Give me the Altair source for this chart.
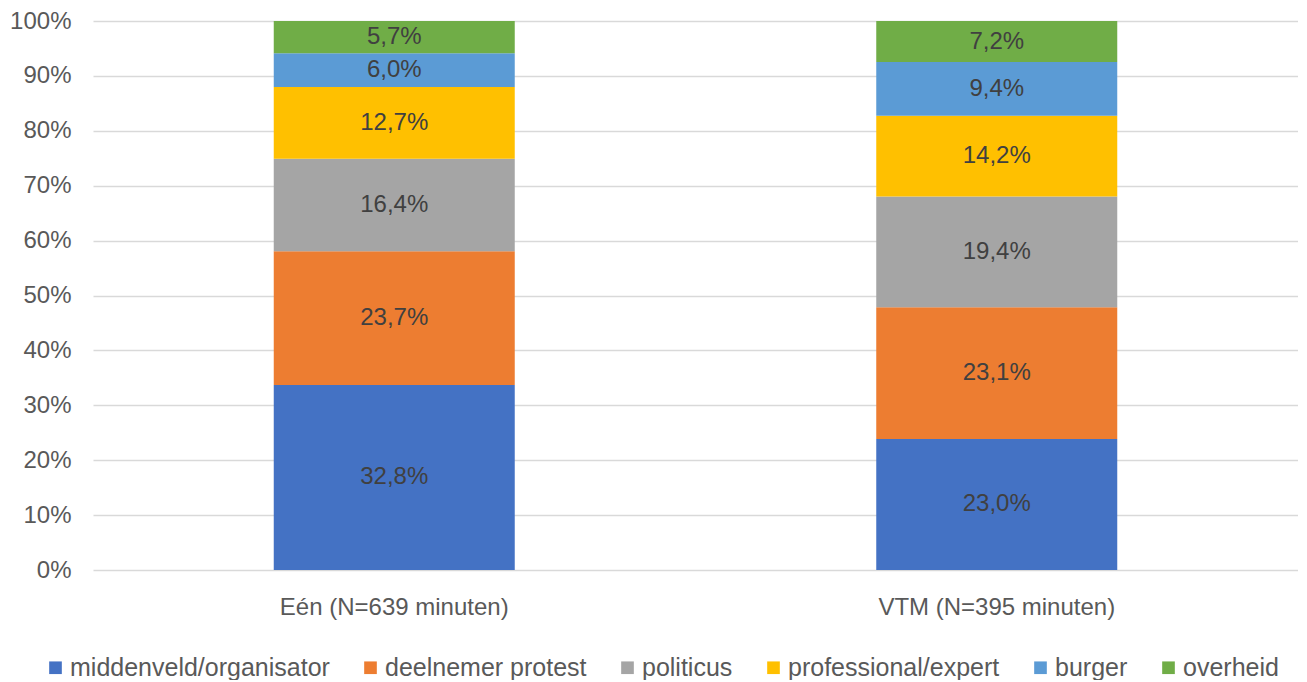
import altair as alt
import pandas as pd

channels = ["Eén (N=639 minuten)", "VTM (N=395 minuten)"]
categories = ["middenveld/organisator", "deelnemer protest", "politicus",
              "professional/expert", "burger", "overheid"]
een_values = [32.8, 23.7, 16.4, 12.7, 6.0, 5.7]
vtm_values = [23.0, 23.1, 19.4, 14.2, 9.4, 7.2]
colors = ["#4472C4", "#ED7D31", "#A5A5A5", "#FFC000", "#5B9BD5", "#70AD47"]

rows = []
for ch, vals in zip(channels, [een_values, vtm_values]):
    for i, (cat, v) in enumerate(zip(categories, vals)):
        rows.append({"channel": ch, "category": cat, "value": v, "order": i,
                     "label": f"{v:.1f}%".replace(".", ",")})
df = pd.DataFrame(rows)

FONT = "Liberation Sans Narrow, Liberation Sans, Arial Narrow, sans-serif"
FS = 24

base = alt.Chart(df).transform_stack(
    stack="value", as_=["y0", "y1"], groupby=["channel"],
    sort=[alt.SortField("order", order="ascending")], offset="normalize"
).transform_calculate(mid="(datum.y0 + datum.y1) / 2")

x_enc = alt.X("channel:N", sort=channels, title=None,
              scale=alt.Scale(paddingInner=0.6, paddingOuter=0.3),
              axis=alt.Axis(labelAngle=0, labelFontSize=FS, labelColor="#595959",
                            labelFont=FONT, ticks=False, domain=False, labelPadding=25,
                            labelLimit=0))

bars = base.mark_bar().encode(
    x=x_enc,
    y=alt.Y("y0:Q", title=None, scale=alt.Scale(domain=[0, 1]),
            axis=alt.Axis(format=".0%", values=[i / 10 for i in range(11)],
                          labelFontSize=FS, labelColor="#595959", labelFont=FONT,
                          ticks=False, domain=False, grid=True, gridColor="#D9D9D9",
                          gridWidth=1.5, labelPadding=22, labelLimit=0)),
    y2="y1:Q",
    color=alt.Color("category:N", sort=categories,
                    scale=alt.Scale(domain=categories, range=colors),
                    legend=alt.Legend(orient="none", legendX=-50, legendY=634,
                                      direction="horizontal", title=None,
                                      symbolType="square", symbolSize=160,
                                      symbolStrokeWidth=0, labelFontSize=25,
                                      labelColor="#595959", labelFont=FONT,
                                      labelOffset=2, columnPadding=28,
                                      symbolOffset=0, labelLimit=0, padding=0)),
    order=alt.Order("order:Q"),
)

text = base.mark_text(fontSize=FS, color="#404040", font=FONT).encode(
    x=alt.X("channel:N", sort=channels),
    y=alt.Y("mid:Q"),
    text="label:N",
)

chart = alt.layer(bars, text).properties(
    width=1205, height=549,
    padding={"left": 85, "top": 13, "right": 0, "bottom": 110},
    autosize=alt.AutoSizeParams(type="none"),
).configure_view(stroke=None)

chart.save("out.html", embed_options={"renderer": "svg", "actions": False})
